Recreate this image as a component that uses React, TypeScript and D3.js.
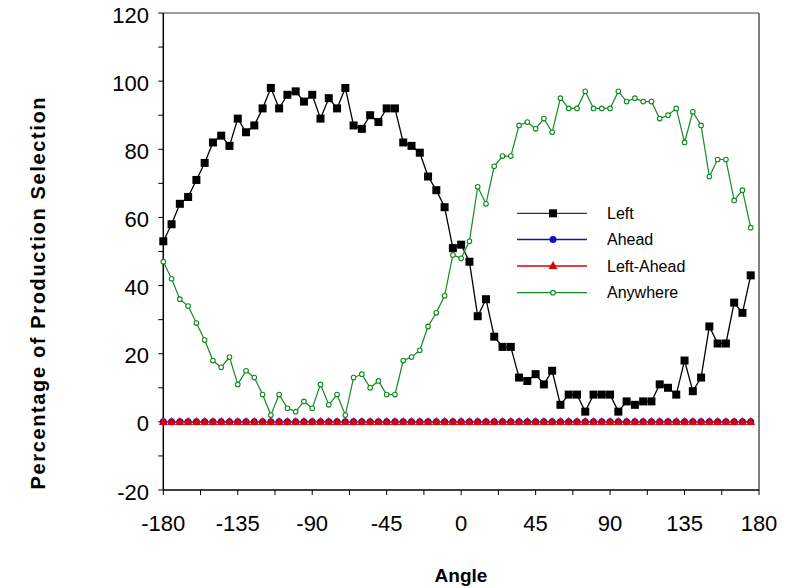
import React from "react";
import * as d3 from "d3";

const angles: number[] = d3.range(-180, 180, 5);
const leftVals = [53,58,64,66,71,76,82,84,81,89,85,87,92,98,92,96,97,94,
  96,89,95,92,98,87,86,90,88,92,92,82,81,79,72,68,63,51,
  52,47,31,36,25,22,22,13,12,14,11,15,5,8,8,3,8,8,
  8,3,6,5,6,6,11,10,8,18,9,13,28,23,23,35,32,43];
const aheadVals = angles.map(() => 0);
const leftAheadVals = angles.map(() => 0);
const anywhereVals = [47,42,36,34,29,24,18,16,19,11,15,13,8,2,8,4,3,6,
  4,11,5,8,2,13,14,10,12,8,8,18,19,21,28,32,37,49,
  48,53,69,64,75,78,78,87,88,86,89,85,95,92,92,97,92,92,
  92,97,94,95,94,94,89,90,92,82,91,87,72,77,77,65,68,57];
const xTicks = [-180,-135,-90,-45,0,45,90,135,180];
const yTicks = [-20,0,20,40,60,80,100,120];
const seriesNames = ["Left","Ahead","Left-Ahead","Anywhere"];

const W = 793, H = 588;
const x = d3.scaleLinear().domain([-180, 180]).range([163.3, 759]);
const y = d3.scaleLinear().domain([-20, 120]).range([490, 13]);
const FONT = "Arial, 'Liberation Sans', sans-serif";

const colors = { Left: "#000000", Ahead: "#1010c0", LeftAhead: "#e00000", Anywhere: "#128a22" };

export default function App() {
  const line = (vals: number[]) =>
    d3.line<number>().x((_, i) => x(angles[i])).y((v) => y(v))(vals) || "";
  const minorX = d3.range(-180, 180.1, 22.5);
  const minorY = d3.range(-20, 120.1, 10);
  const tri = (cx: number, cy: number, s: number) =>
    `M${cx},${cy - s * 0.62}L${cx + s * 0.55},${cy + s * 0.38}L${cx - s * 0.55},${cy + s * 0.38}Z`;
  const legendY = [213.3, 239.5, 266, 292.7];
  return (
    <svg width={W} height={H} style={{ position: "absolute", left: 0, top: 0 }} fontFamily={FONT}>
      <rect width={W} height={H} fill="#fff" />
      {/* frame */}
      <line x1={x(-180)} x2={x(180)} y1={y(120)} y2={y(120)} stroke="#808080" strokeWidth={1.5} />
      <line x1={x(180)} x2={x(180)} y1={y(120)} y2={y(-20)} stroke="#808080" strokeWidth={2} />
      {/* axes */}
      <line x1={x(-180)} x2={x(-180)} y1={y(120)} y2={y(-20)} stroke="#000" strokeWidth={1.5} />
      <line x1={x(-180)} x2={x(180)} y1={y(-20)} y2={y(-20)} stroke="#000" strokeWidth={1.5} />
      {minorY.map((v) => (
        <line key={"yt" + v} x1={x(-180) - 5} x2={x(-180)} y1={y(v)} y2={y(v)} stroke="#000" strokeWidth={1} />
      ))}
      {minorX.map((v) => (
        <line key={"xt" + v} x1={x(v)} x2={x(v)} y1={y(-20)} y2={y(-20) + 5} stroke="#000" strokeWidth={1} />
      ))}
      {yTicks.map((v) => (
        <text key={"yl" + v} x={149} y={y(v) + 9.5} textAnchor="end" fontSize={22} fill="#000">{v}</text>
      ))}
      {xTicks.map((v) => (
        <text key={"xl" + v} x={x(v)} y={531} textAnchor="middle" fontSize={22} fill="#000">{v}</text>
      ))}
      {/* axis titles */}
      <text x={461} y={582} textAnchor="middle" fontSize={19} fontWeight="bold">Angle</text>
      <text transform={`translate(45,${(97 + 490) / 2}) rotate(-90)`} textAnchor="middle" fontSize={20} fontWeight="bold"
        textLength={392} lengthAdjust="spacing">
        Percentage of Production Selection
      </text>
      {/* series Left */}
      <path d={line(leftVals)} fill="none" stroke={colors.Left} strokeWidth={1.3} />
      {leftVals.map((v, i) => (
        <rect key={"l" + i} x={x(angles[i]) - 4} y={y(v) - 4} width={8} height={8} fill="#000" />
      ))}
      {/* Ahead */}
      <path d={line(aheadVals)} fill="none" stroke={colors.Ahead} strokeWidth={1.3} />
      {aheadVals.map((v, i) => (
        <circle key={"a" + i} cx={x(angles[i])} cy={y(v)} r={3.5} fill={colors.Ahead} />
      ))}
      {/* Left-Ahead */}
      <path d={line(leftAheadVals)} fill="none" stroke={colors.LeftAhead} strokeWidth={1.3} />
      {leftAheadVals.map((v, i) => (
        <path key={"la" + i} d={tri(x(angles[i]), y(v), 8)} fill={colors.LeftAhead} />
      ))}
      {/* Anywhere */}
      <path d={line(anywhereVals)} fill="none" stroke={colors.Anywhere} strokeWidth={1.2} />
      {anywhereVals.map((v, i) => (
        <circle key={"w" + i} cx={x(angles[i])} cy={y(v)} r={2.3} fill="#fff" stroke={colors.Anywhere} strokeWidth={1.1} />
      ))}
      {/* legend */}
      {seriesNames.map((name, k) => {
        const ly = legendY[k];
        const col = [colors.Left, colors.Ahead, colors.LeftAhead, colors.Anywhere][k];
        return (
          <g key={"lg" + name}>
            <line x1={517} x2={587} y1={ly} y2={ly} stroke={k === 0 ? "#333" : col} strokeWidth={1.3} />
            {k === 0 && <rect x={549} y={ly - 4} width={8} height={8} fill="#000" />}
            {k === 1 && <circle cx={553} cy={ly} r={3.5} fill={col} />}
            {k === 2 && <path d={tri(553, ly, 8)} fill={col} />}
            {k === 3 && <circle cx={553} cy={ly} r={2.3} fill="#fff" stroke={col} strokeWidth={1.1} />}
            <text x={607} y={ly + 5.5} fontSize={16} fill="#000">{name}</text>
          </g>
        );
      })}
    </svg>
  );
}
